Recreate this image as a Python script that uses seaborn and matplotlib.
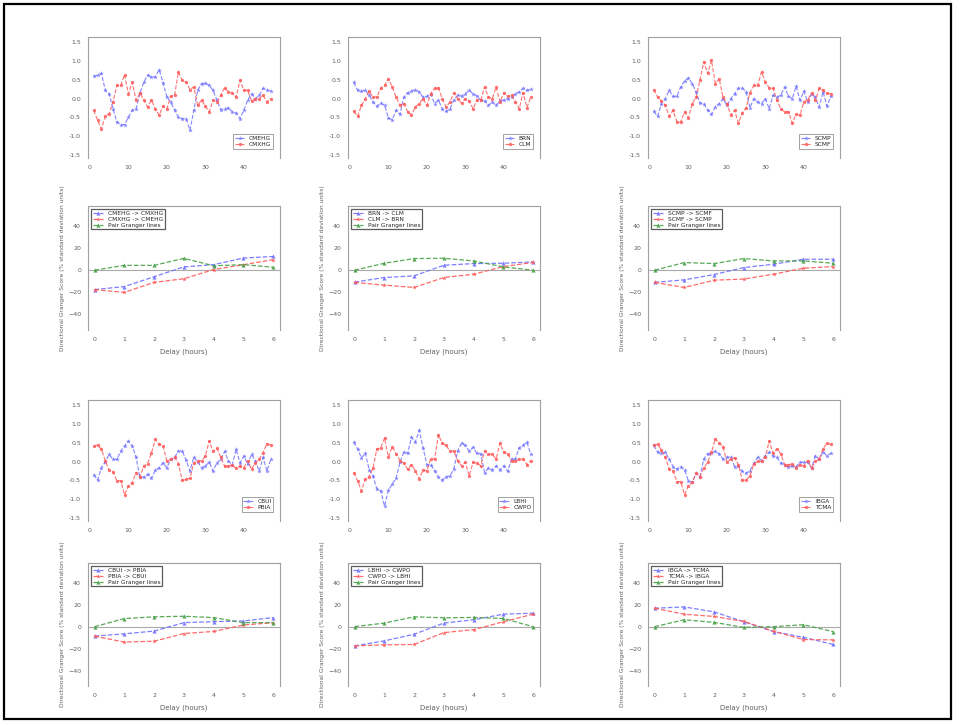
import numpy as np
import pandas as pd
import matplotlib
matplotlib.use("Agg")
import matplotlib.pyplot as plt
from matplotlib.patches import Rectangle
import seaborn as sns

sns.set_theme(style="white")
plt.rcParams["font.family"] = ["DejaVu Sans"]

# ---- standardized hourly series (pairs of markets) ----
ts_names = [("CMEHG", "CMXHG"), ("BRN", "CLM"), ("SCMP", "SCMF"),
            ("CBUI", "PBIA"), ("LBHI", "CWPO"), ("IBGA", "TCMA")]

ts1_a = [0.6, 0.62, 0.67, 0.22, 0.13, -0.27, -0.62, -0.69, -0.69, -0.5,
         -0.31, -0.27, 0.15, 0.44, 0.62, 0.58, 0.58, 0.77, 0.42, 0.04,
         -0.09, -0.31, -0.49, -0.53, -0.53, -0.84, -0.31, 0.22, 0.4, 0.42,
         0.35, 0.22, -0.04, -0.29, -0.27, -0.24, -0.35, -0.38, -0.53, -0.31,
         -0.04, 0.13, 0.0, 0.09, 0.27, 0.24, 0.2]
ts1_b = [-0.31, -0.58, -0.8, -0.47, -0.4, -0.09, 0.35, 0.35, 0.64, 0.13,
         0.43, -0.04, 0.15, -0.04, -0.22, -0.04, -0.27, -0.44, -0.2, -0.27,
         0.06, 0.09, 0.71, 0.49, 0.44, 0.24, 0.31, -0.18, -0.04, -0.2,
         -0.35, -0.04, -0.09, 0.09, 0.29, 0.18, 0.15, 0.04, 0.49, 0.22,
         0.22, -0.06, 0.0, 0.0, 0.09, -0.09, 0.0]

ts2_a = [0.43, 0.22, 0.2, 0.22, 0.09, -0.09, -0.2, -0.12, -0.18, -0.51,
         -0.56, -0.31, -0.42, 0.04, 0.16, 0.2, 0.24, 0.18, 0.04, 0.06,
         0.13, -0.13, -0.04, -0.27, -0.34, -0.28, -0.04, 0.09, 0.07, 0.13,
         0.22, 0.13, 0.07, -0.04, -0.06, -0.18, -0.09, -0.18, -0.06, -0.03,
         0.0, 0.04, 0.13, 0.18, 0.27, 0.22, 0.25]
ts2_b = [-0.34, -0.47, -0.18, 0.0, 0.2, 0.04, 0.04, 0.28, 0.35, 0.53,
         0.31, 0.04, -0.18, -0.13, -0.35, -0.43, -0.22, -0.13, 0.0, -0.18,
         0.13, 0.27, 0.29, 0.0, -0.22, -0.09, 0.15, 0.0, -0.12, 0.0,
         -0.06, -0.27, -0.03, -0.04, 0.31, 0.04, 0.0, 0.31, -0.09, 0.16,
         0.06, 0.09, -0.09, -0.27, 0.16, -0.24, 0.04]

ts3_a = [-0.34, -0.47, -0.13, 0.0, 0.22, 0.06, 0.06, 0.31, 0.47, 0.55,
         0.4, 0.18, -0.12, -0.13, -0.31, -0.42, -0.22, -0.13, 0.0, -0.18,
         0.0, 0.13, 0.27, 0.29, 0.18, -0.24, 0.0, -0.09, -0.13, 0.0,
         -0.27, 0.09, 0.04, 0.09, 0.31, 0.06, 0.0, 0.33, -0.04, 0.2,
         -0.09, 0.13, 0.04, -0.22, 0.18, -0.2, 0.06]
ts3_b = [0.24, 0.04, -0.06, -0.18, -0.47, -0.31, -0.62, -0.62, -0.35, -0.51,
         -0.13, 0.04, 0.49, 0.98, 0.67, 1.02, 0.4, 0.53, 0.04, -0.13,
         -0.44, -0.31, -0.65, -0.38, -0.24, 0.16, 0.35, 0.35, 0.71, 0.44,
         0.29, 0.27, -0.04, -0.27, -0.35, -0.35, -0.65, -0.42, -0.44, -0.09,
         -0.03, 0.15, -0.04, 0.27, 0.22, 0.15, 0.13]

ts4_a = [-0.35, -0.49, -0.16, 0.0, 0.19, 0.06, 0.06, 0.27, 0.42, 0.55,
         0.42, 0.11, -0.42, -0.41, -0.34, -0.44, -0.23, -0.16, -0.03, -0.16,
         0.06, 0.11, 0.28, 0.28, 0.04, -0.25, 0.12, 0.0, -0.16, -0.12,
         -0.01, -0.25, -0.03, 0.06, 0.27, 0.02, -0.09, 0.33, -0.03, 0.15,
         -0.07, 0.19, 0.02, -0.25, 0.11, -0.25, 0.06]
ts4_b = [0.42, 0.44, 0.33, 0.02, -0.23, -0.27, -0.51, -0.51, -0.88, -0.65,
         -0.56, -0.29, -0.41, -0.12, -0.05, 0.24, 0.59, 0.46, 0.42, 0.02,
         0.06, 0.11, -0.05, -0.5, -0.47, -0.44, -0.03, 0.02, 0.02, 0.15,
         0.55, 0.27, 0.35, 0.12, -0.12, -0.12, -0.09, -0.18, -0.12, -0.16,
         0.02, -0.2, -0.03, 0.06, 0.24, 0.48, 0.44]

ts5_a = [0.52, 0.34, 0.1, 0.23, -0.22, -0.38, -0.73, -0.78, -1.18, -0.76,
         -0.6, -0.44, -0.02, 0.25, 0.22, 0.65, 0.52, 0.83, 0.37, -0.08,
         -0.08, -0.24, -0.4, -0.49, -0.4, -0.38, -0.2, 0.29, 0.49, 0.43,
         0.28, 0.38, 0.22, 0.21, -0.29, -0.17, -0.22, -0.11, -0.22, -0.11,
         -0.26, 0.07, 0.07, 0.37, 0.43, 0.52, 0.19]
ts5_b = [-0.29, -0.51, -0.78, -0.46, -0.4, -0.17, 0.34, 0.37, 0.63, 0.12,
         0.4, 0.21, 0.03, -0.04, -0.2, -0.08, -0.24, -0.46, -0.22, -0.24,
         0.07, 0.07, 0.71, 0.49, 0.43, 0.28, 0.28, 0.03, -0.11, -0.02,
         -0.38, -0.02, -0.04, -0.11, 0.29, 0.21, 0.19, 0.07, 0.49, 0.25,
         0.21, 0.03, 0.01, 0.07, 0.07, -0.08, 0.03]

ts6_a = [0.43, 0.25, 0.22, 0.25, 0.07, -0.13, -0.2, -0.13, -0.22, -0.51,
         -0.55, -0.31, -0.4, 0.07, 0.21, 0.22, 0.27, 0.21, 0.07, 0.12,
         0.12, -0.13, -0.11, -0.26, -0.31, -0.24, -0.04, 0.12, 0.03, 0.16,
         0.25, 0.16, 0.12, -0.04, -0.08, -0.15, -0.11, -0.13, -0.02, -0.02,
         -0.02, -0.17, 0.16, 0.07, 0.25, 0.16, 0.22]
ts6_b = [0.43, 0.46, 0.31, 0.12, -0.2, -0.24, -0.53, -0.53, -0.88, -0.64,
         -0.55, -0.31, -0.4, -0.17, -0.02, 0.25, 0.61, 0.49, 0.4, -0.02,
         0.07, 0.1, -0.08, -0.49, -0.49, -0.38, -0.06, 0.01, 0.01, 0.13,
         0.55, 0.22, 0.34, 0.21, -0.08, -0.08, -0.06, -0.17, -0.08, -0.11,
         0.03, -0.17, 0.01, 0.07, 0.34, 0.49, 0.46]

ts_series = [(ts1_a, ts1_b), (ts2_a, ts2_b), (ts3_a, ts3_b),
             (ts4_a, ts4_b), (ts5_a, ts5_b), (ts6_a, ts6_b)]

# ---- Granger scores by delay ----
delays = [0, 1, 2, 3, 4, 5, 6]

gr1_ab = [-17.5, -14.8, -5.9, 3.0, 5.0, 11.0, 12.4]
gr1_ba = [-17.5, -20.0, -11.0, -7.7, 0.6, 5.0, 9.5]
gr1_pair = [0.0, 4.4, 4.4, 10.7, 4.0, 5.0, 2.7]

gr2_ab = [-10.8, -6.6, -5.1, 4.5, 6.0, 6.3, 7.5]
gr2_ba = [-11.0, -13.5, -15.6, -6.6, -3.6, 3.3, 7.0]
gr2_pair = [0.0, 6.3, 10.5, 10.8, 8.4, 3.0, 0.0]

gr3_ab = [-11.0, -8.7, -3.9, 2.4, 5.4, 9.9, 9.9]
gr3_ba = [-11.0, -15.6, -9.0, -8.0, -3.6, 1.8, 3.3]
gr3_pair = [0.0, 6.9, 6.0, 10.5, 8.4, 8.4, 6.3]

gr4_ab = [-8.6, -6.5, -4.0, 3.7, 4.6, 5.2, 8.3]
gr4_ba = [-8.6, -14.0, -13.2, -6.2, -4.3, 1.5, 3.7]
gr4_pair = [0.0, 7.4, 9.0, 9.5, 8.3, 3.7, 3.7]

gr5_ab = [-17.5, -12.9, -6.9, 3.3, 6.3, 11.4, 12.3]
gr5_ba = [-17.5, -16.5, -16.2, -5.4, -2.7, 4.5, 11.4]
gr5_pair = [0.0, 3.3, 9.0, 8.1, 8.4, 7.5, 0.0]

gr6_ab = [16.8, 18.0, 13.5, 4.5, -4.5, -9.6, -16.2]
gr6_ba = [16.8, 11.4, 9.3, 4.8, -4.2, -11.7, -12.0]
gr6_pair = [0.0, 6.3, 3.9, -0.6, 0.0, 1.8, -4.5]

gr_series = [(gr1_ab, gr1_ba, gr1_pair), (gr2_ab, gr2_ba, gr2_pair),
             (gr3_ab, gr3_ba, gr3_pair), (gr4_ab, gr4_ba, gr4_pair),
             (gr5_ab, gr5_ba, gr5_pair), (gr6_ab, gr6_ba, gr6_pair)]

ts_ticks = [-1.5, -1.0, -0.5, 0.0, 0.5, 1.0, 1.5]
ts_xticks = [0, 10, 20, 30, 40]
gr_ticks = [-40, -20, 0, 20, 40]

BLUE = "#7070ff"
RED = "#ff5a5a"
GREEN = "#46a046"
SPINE = "#a0a0a0"
TXT = "#606060"

fig = plt.figure(figsize=(9.6, 7.25), dpi=100)
fig.patches.append(Rectangle((0.004, 0.008), 0.987, 0.987, transform=fig.transFigure,
                             fill=False, ec="black", lw=1.6))

col_left = [88 / 960, 348 / 960, 648 / 960]
col_w = 192 / 960
row_geom = [(1 - 158 / 725, 121 / 725), (1 - 330 / 725, 124 / 725),
            (1 - 521 / 725, 121 / 725), (1 - 686 / 725, 123 / 725)]


def style_axes(ax):
    for side in ("left", "top", "right"):
        ax.spines[side].set_color(SPINE)
        ax.spines[side].set_linewidth(0.8)
    ax.spines["bottom"].set_visible(False)
    ax.tick_params(axis="both", which="both", length=3, width=0.6, color=TXT,
                   labelsize=4.5, labelcolor=TXT, direction="out", pad=2)
    ax.set_xlabel("")
    ax.set_ylabel("")


for k in range(6):
    block, col = divmod(k, 3)
    # time series panel
    b, h = row_geom[2 * block]
    ax = fig.add_axes([col_left[col], b, col_w, h])
    ya, yb = ts_series[k]
    na, nb = ts_names[k]
    sns.lineplot(x=np.arange(1, len(ya) + 1), y=ya, ax=ax, color=BLUE, linestyle="--",
                 linewidth=0.8, marker="*", markersize=3.5, markeredgewidth=0,
                 alpha=0.85, label=na)
    sns.lineplot(x=np.arange(1, len(yb) + 1), y=yb, ax=ax, color=RED, linestyle="--",
                 linewidth=0.8, marker="o", markersize=2.4, markeredgewidth=0,
                 alpha=0.85, label=nb)
    ax.set_xlim(-0.5, 49.4)
    ax.set_ylim(-1.58, 1.64)
    ax.set_xticks(ts_xticks)
    ax.set_yticks(ts_ticks)
    ax.set_yticklabels([f"{v:.1f}" for v in ts_ticks])
    style_axes(ax)
    leg = ax.legend(loc="lower right", fontsize=4.2, frameon=True, fancybox=False,
                    handlelength=1.6, borderpad=0.3, labelspacing=0.15,
                    bbox_to_anchor=(0.98, 0.05))
    leg.get_frame().set_edgecolor("#777777")
    leg.get_frame().set_linewidth(0.6)

    # Granger panel
    b, h = row_geom[2 * block + 1]
    ax = fig.add_axes([col_left[col], b, col_w, h])
    ab, ba, pair = gr_series[k]
    ax.axhline(0, color="#aaaaaa", linewidth=0.8, zorder=0)
    sns.lineplot(x=delays, y=ab, ax=ax, color=BLUE, linestyle="--", linewidth=0.9,
                 marker="^", markersize=3, markeredgewidth=0, alpha=0.9,
                 label=f"{na} -> {nb}")
    sns.lineplot(x=delays, y=ba, ax=ax, color=RED, linestyle="--", linewidth=0.9,
                 marker="*", markersize=3.5, markeredgewidth=0, alpha=0.9,
                 label=f"{nb} -> {na}")
    sns.lineplot(x=delays, y=pair, ax=ax, color=GREEN, linestyle="--", linewidth=0.9,
                 marker="^", markersize=3, markeredgewidth=0, alpha=0.9,
                 label="Pair Granger lines")
    ax.set_xlim(-0.22, 6.23)
    ax.set_ylim(-54, 58)
    ax.set_xticks(delays)
    ax.set_yticks(gr_ticks)
    style_axes(ax)
    ax.set_xlabel("Delay (hours)", fontsize=5, color=TXT, labelpad=5)
    ax.set_ylabel("Directional Granger Score (% standard deviation units)",
                  fontsize=4.3, color=TXT, labelpad=2)
    leg = ax.legend(loc="upper left", fontsize=4.2, frameon=True, fancybox=False,
                    handlelength=1.8, borderpad=0.3, labelspacing=0.15,
                    bbox_to_anchor=(0.0, 1.0))
    leg.get_frame().set_edgecolor("#333333")
    leg.get_frame().set_linewidth(0.9)

fig.savefig("out.png", dpi=100)
